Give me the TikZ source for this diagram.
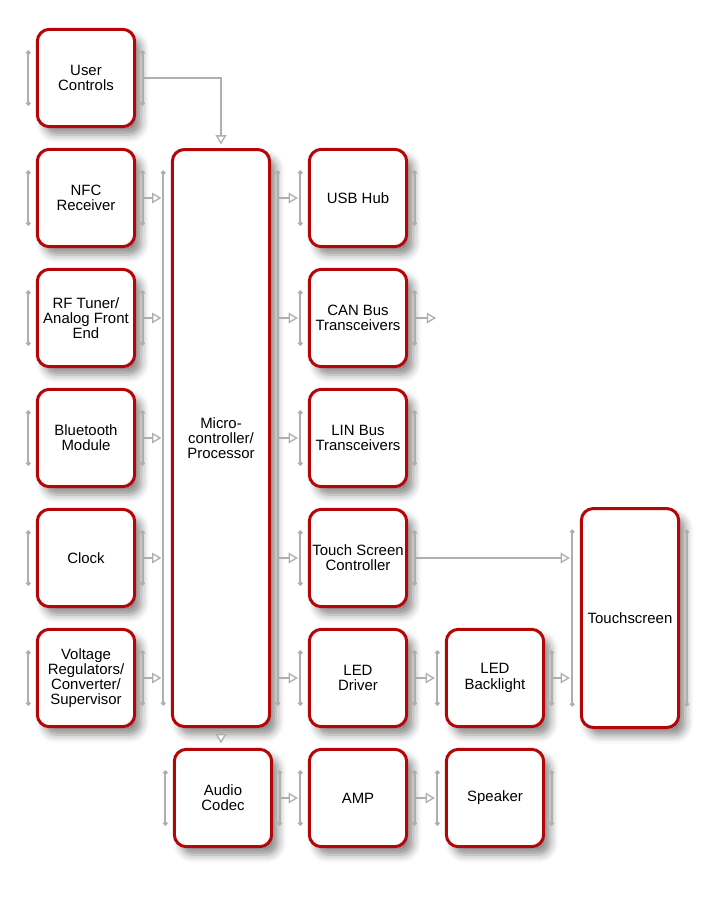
\documentclass[tikz,border=0pt]{standalone}
\usepackage{fontspec}
\setmainfont{Liberation Sans}
\usetikzlibrary{arrows.meta,calc,shadows.blur}
\definecolor{boxred}{RGB}{180,6,6}
\definecolor{pingray}{RGB}{175,175,175}
\tikzset{
  blk/.style={draw=boxred, line width=2.25pt, rounded corners=9pt, fill=white,
    align=center, inner sep=0pt, font=\fontsize{11.2}{11.4}\selectfont,
    minimum width=73pt, minimum height=73pt,
    blur shadow={shadow xshift=5pt, shadow yshift=-6pt, shadow blur radius=6pt, shadow opacity=45}},
  pinline/.style={draw=pingray, line width=1.3pt, {Circle[length=3.4pt]}-{Circle[length=3.4pt]}},
  conn/.style={draw=pingray, line width=1pt, -{Triangle[open, length=7pt, width=8pt, fill=white]}}
}
\newcommand{\pinsof}[1]{%
  \draw[pinline] ($(#1.north west)+(-7.5,22.5)$) -- ($(#1.south west)+(-7.5,-22.5)$);
  \draw[pinline] ($(#1.north east)+(6.5,22.5)$) -- ($(#1.south east)+(6.5,-22.5)$);}
\begin{document}
\begin{tikzpicture}[x=0.75pt,y=-0.75pt]
\useasboundingbox (0,0) rectangle (723,900);
% left column
\node[blk] (uc) at (86,78) {User\\Controls};
\node[blk] (nfc) at (86,198) {NFC\\Receiver};
\node[blk] (rf) at (86,318) {RF Tuner/\\Analog Front\\End};
\node[blk] (bt) at (86,438) {Bluetooth\\Module};
\node[blk] (clk) at (86,558) {Clock};
\node[blk] (vr) at (86,678) {Voltage\\Regulators/\\Converter/\\Supervisor};
% microcontroller
\node[blk, minimum height=432.75pt] (mc) at (221,438) {Micro-\\controller/\\Processor};
\node[blk] (ac) at (223,798) {Audio\\Codec};
% middle column
\node[blk] (usb) at (358,198) {USB Hub};
\node[blk] (can) at (358,318) {CAN Bus\\Transceivers};
\node[blk] (lin) at (358,438) {LIN Bus\\Transceivers};
\node[blk] (tsc) at (358,558) {Touch Screen\\Controller};
\node[blk] (ledd) at (358,678) {LED\\Driver};
\node[blk] (amp) at (358,798) {AMP};
% right
\node[blk] (ledb) at (495,678) {LED\\Backlight};
\node[blk] (spk) at (495,798) {Speaker};
\node[blk, minimum height=164.25pt] (ts) at (630,618) {Touchscreen};
% pins
\foreach \n in {uc,nfc,rf,bt,clk,vr,mc,ac,usb,can,lin,tsc,ledd,amp,ledb,spk,ts} {\pinsof{\n}}
% connectors
\draw[conn] ($(uc.east)+(6.5,0)$) -| ($(mc.north)+(0,-3.5)$);
\foreach \s in {nfc,rf,bt,clk,vr} {
  \draw[conn] ($(\s.east)+(6.5,0)$) -- ($(\s.east -| mc.west)+(-9.5,0)$);}
\foreach \t in {usb,can,lin,tsc,ledd} {
  \draw[conn] ($(\t.west -| mc.east)+(6.5,0)$) -- ($(\t.west)+(-10,0)$);}
\draw[conn] ($(can.east)+(6.5,0)$) -- ($(can.east)+(28,0)$);
\draw[conn] ($(tsc.east)+(6.5,0)$) -- ($(tsc.east -| ts.west)+(-10,0)$);
\draw[conn] ($(ledd.east)+(6.5,0)$) -- ($(ledb.west)+(-10,0)$);
\draw[conn] ($(ledb.east)+(6.5,0)$) -- ($(ledb.east -| ts.west)+(-10,0)$);
\draw[conn] ($(mc.south)+(0,1.5)$) -- ($(ac.north -| mc.south)+(0,-4.5)$);
\draw[conn] ($(ac.east)+(6.5,0)$) -- ($(amp.west)+(-10,0)$);
\draw[conn] ($(amp.east)+(6.5,0)$) -- ($(spk.west)+(-10,0)$);
\end{tikzpicture}
\end{document}
